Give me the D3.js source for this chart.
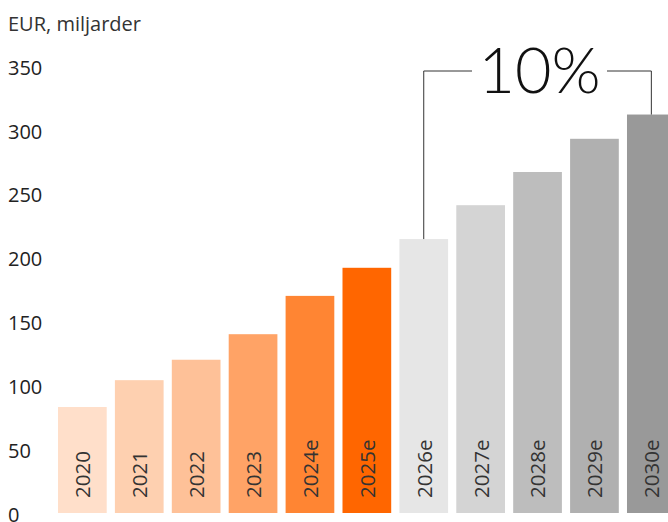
<!DOCTYPE html>
<html>
<head>
<meta charset="utf-8">
<script src="https://cdn.jsdelivr.net/npm/d3@7"></script>
<style>
  html, body { margin: 0; padding: 0; background: #fff; }
  svg { display: block; font-family: "Open Sans", sans-serif; }
</style>
</head>
<body>
<div id="chart"></div>
<script>
var years = ['2020', '2021', '2022', '2023', '2024e', '2025e', '2026e', '2027e', '2028e', '2029e', '2030e'];
var values = [83, 104, 120, 140, 170, 192, 214.5, 241, 267, 293, 312];
var barColors = ['#ffdfca', '#fed0b0', '#fec198', '#ffa366', '#ff8533', '#ff6600',
                 '#e6e6e6', '#d4d4d4', '#bdbdbd', '#b0b0b0', '#999999'];
var yTicks = [0, 50, 100, 150, 200, 250, 300, 350];
var unitLabel = 'EUR, miljarder';
var growthLabel = '10%';

var width = 668, height = 522;

var svg = d3.select("#chart").append("svg")
  .attr("width", width)
  .attr("height", height);

var x = d3.scaleBand()
  .domain(years)
  .range([58, 675.7])
  .paddingInner(0.144)
  .paddingOuter(0);

var y = d3.scaleLinear()
  .domain([0, 350])
  .range([513, 66]);

// unit label
svg.append("text")
  .attr("x", 8)
  .attr("y", 31)
  .attr("font-size", "20px")
  .attr("fill", "#333")
  .text(unitLabel);

// y tick labels (no axis line)
svg.selectAll(".ytick")
  .data(yTicks)
  .enter().append("text")
  .attr("class", "ytick")
  .attr("x", 8)
  .attr("y", d => y(d) + 1.5)
  .attr("dy", "0.36em")
  .attr("font-size", "20px")
  .attr("fill", "#222")
  .text(d => d);

// rotated year labels sit inside the bars
svg.selectAll(".bar")
  .data(years)
  .enter().append("rect")
  .attr("class", "bar")
  .attr("x", d => x(d))
  .attr("y", (d, i) => y(values[i]))
  .attr("width", x.bandwidth())
  .attr("height", (d, i) => y(0) - y(values[i]))
  .attr("fill", (d, i) => barColors[i]);

svg.selectAll(".year")
  .data(years)
  .enter().append("text")
  .attr("class", "year")
  .attr("transform", d => "translate(" + (x(d) + x.bandwidth() / 2 + 0.5) + ",498) rotate(-90)")
  .attr("dy", "0.36em")
  .attr("font-size", "20.5px")
  .attr("fill", "#333")
  .text(d => d);

// growth bracket between 2026e and 2030e
var first = years.indexOf('2026e'), last = years.indexOf('2030e');
var x1 = x(years[first]) + x.bandwidth() / 2;
var x2 = x(years[last]) + x.bandwidth() / 2;
var bracketY = 71;
var textLeft = 472, textRight = 607;

svg.append("path")
  .attr("d", "M" + x1 + "," + y(values[first]) + "V" + bracketY + "H" + textLeft)
  .attr("fill", "none")
  .attr("stroke", "#333")
  .attr("stroke-width", 1);

svg.append("path")
  .attr("d", "M" + textRight + "," + bracketY + "H" + x2 + "V" + y(values[last]))
  .attr("fill", "none")
  .attr("stroke", "#333")
  .attr("stroke-width", 1);

svg.append("text")
  .attr("x", (textLeft + textRight) / 2)
  .attr("y", 93)
  .attr("text-anchor", "middle")
  .attr("font-family", "Lato, sans-serif")
  .attr("font-weight", 300)
  .attr("font-size", "63px")
  .attr("fill", "#111")
  .text(growthLabel);
</script>
</body>
</html>
